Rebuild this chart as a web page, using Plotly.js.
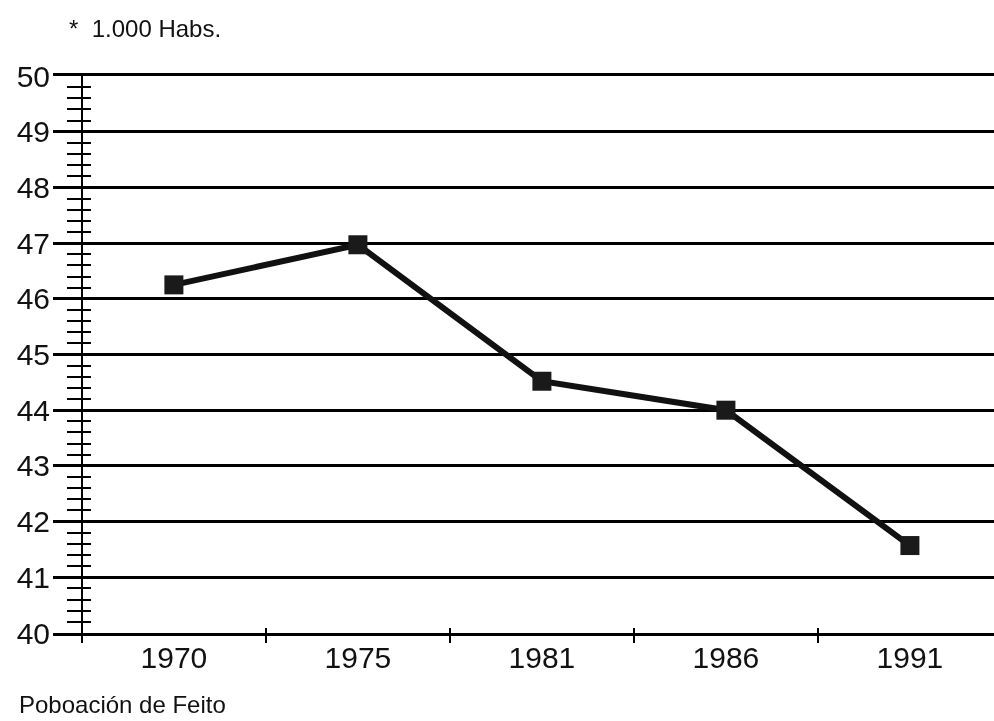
<!DOCTYPE html>
<html>
<head>
<meta charset="utf-8">
<script src="https://cdn.plot.ly/plotly-3.0.1.min.js"></script>
<style>html,body{margin:0;padding:0;background:#fff}#chart{width:994px;height:721px}</style>
</head>
<body>
<div id="chart"></div>
<script>
const years = ["1970", "1975", "1981", "1986", "1991"];
const population = [46.25, 46.97, 44.52, 44.0, 41.57];
const yTickVals = [40, 41, 42, 43, 44, 45, 46, 47, 48, 49, 50];
const unitLabel = "*  1.000 Habs.";
const chartCaption = "Poboación de Feito";

const font = "Liberation Sans, Arial, Helvetica, sans-serif";

const traces = [
  {
    x: years, y: population, type: "scatter", mode: "lines+markers",
    line: {color: "#111", width: 6},
    marker: {symbol: "square", size: 19, color: "#1a1a1a"},
    hoverinfo: "x+y", showlegend: false, cliponaxis: false
  },
  {x: years, y: population, yaxis: "y2", mode: "markers", opacity: 0, showlegend: false, hoverinfo: "skip"},
  {x: years, y: population, yaxis: "y3", mode: "markers", opacity: 0, showlegend: false, hoverinfo: "skip"},
  {x: years, y: population, xaxis: "x2", mode: "markers", opacity: 0, showlegend: false, hoverinfo: "skip"}
];

const axisPos = (82 - 53) / (994 - 53);
const minorAxis = (dir, len) => ({
  overlaying: "y", anchor: "free", position: axisPos, side: "left",
  range: [40, 50], showgrid: false, zeroline: false,
  showticklabels: false, ticks: "",
  showline: true, linecolor: "#000", linewidth: 2,
  minor: {dtick: 0.2, tick0: 40, ticks: dir, ticklen: len, tickwidth: 2, tickcolor: "#000", showgrid: false}
});

const xRange = [-0.657, 4.457];

const layout = {
  width: 994, height: 721,
  margin: {l: 53, r: 0, t: 76, b: 88},
  paper_bgcolor: "#fff", plot_bgcolor: "#fff",
  font: {family: font, color: "#000"},
  showlegend: false,
  xaxis: {
    type: "category", categoryorder: "array", categoryarray: years,
    range: xRange,
    showgrid: false, zeroline: false,
    showline: true, mirror: true, linecolor: "#000", linewidth: 2.5,
    ticks: "outside", tickson: "boundaries", ticklen: 7, tickwidth: 2, tickcolor: "#000",
    tickfont: {size: 30, family: font, color: "#111"},
    ticklabelstandoff: -4
  },
  xaxis2: {
    type: "category", categoryorder: "array", categoryarray: years,
    overlaying: "x", anchor: "y", side: "bottom", range: xRange,
    showgrid: false, zeroline: false, showline: false, showticklabels: false,
    ticks: "inside", tickson: "boundaries", ticklen: 5, tickwidth: 2, tickcolor: "#000"
  },
  yaxis: {
    range: [40, 50], tickvals: yTickVals,
    showgrid: true, gridcolor: "#000", gridwidth: 2.5,
    zeroline: false, showline: false, ticks: "",
    tickfont: {size: 30, family: font, color: "#111"},
    ticklabelstandoff: 2
  },
  yaxis2: minorAxis("outside", 14),
  yaxis3: minorAxis("inside", 8),
  annotations: [
    {text: unitLabel, xref: "paper", yref: "paper", x: 0, xshift: 14, y: 1, yshift: 48,
     xanchor: "left", yanchor: "middle", showarrow: false, font: {size: 24, family: font, color: "#111"}},
    {text: chartCaption, xref: "paper", yref: "paper", x: 0, xshift: -36, y: 0, yshift: -87,
     xanchor: "left", yanchor: "bottom", showarrow: false, font: {size: 24, family: font, color: "#111"}}
  ]
};

Plotly.newPlot("chart", traces, layout, {displayModeBar: false, responsive: false});
</script>
</body>
</html>
